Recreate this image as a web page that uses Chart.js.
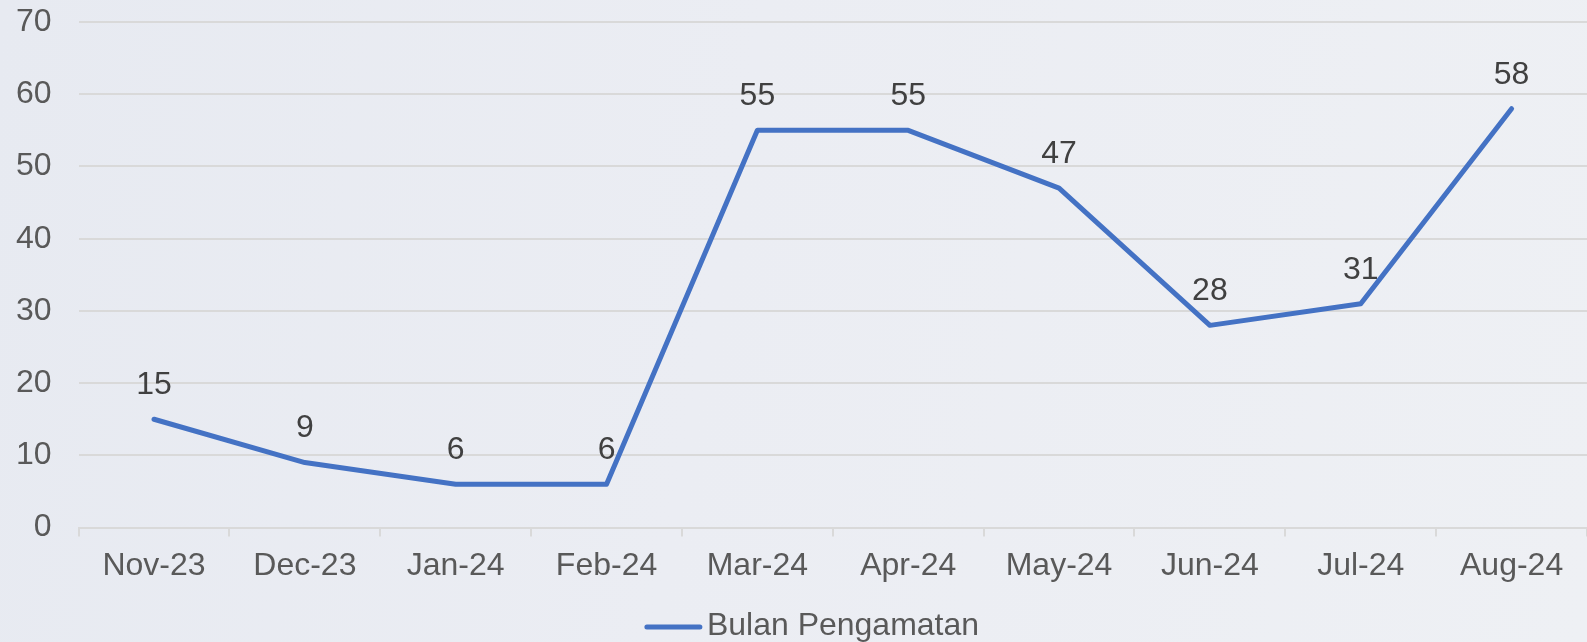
<!DOCTYPE html>
<html>
<head>
<meta charset="utf-8">
<script src="https://cdn.jsdelivr.net/npm/chart.js@4/dist/chart.umd.min.js"></script>
<style>
  html, body { margin: 0; padding: 0; }
  body {
    width: 1587px; height: 642px; overflow: hidden;
    background: linear-gradient(100deg, #e7eaf1 0%, #ebedf3 45%, #eef0f4 100%);
  }
  canvas { display: block; }
</style>
</head>
<body>
<canvas id="chart" width="1587" height="642"></canvas>
<script>
// data
const months = ['Nov-23', 'Dec-23', 'Jan-24', 'Feb-24', 'Mar-24', 'Apr-24', 'May-24', 'Jun-24', 'Jul-24', 'Aug-24'];
const counts = [15, 9, 6, 6, 55, 55, 47, 28, 31, 58];
const seriesName = 'Bulan Pengamatan';

const FONT = '"Liberation Sans", Arial, sans-serif';
const BLUE = '#4472C4';
const GRID = '#d9d9d9';

// value labels above each point
const valueLabels = {
  id: 'valueLabels',
  afterDatasetsDraw(chart) {
    const ctx = chart.ctx;
    const meta = chart.getDatasetMeta(0);
    ctx.save();
    ctx.font = '32px ' + FONT;
    ctx.fillStyle = '#404040';
    ctx.textAlign = 'center';
    ctx.textBaseline = 'middle';
    meta.data.forEach((pt, i) => {
      ctx.fillText(String(counts[i]), pt.x, pt.y - 34);
    });
    ctx.restore();
  }
};

// legend like the office one: short line + name, close together
const lineLegend = {
  id: 'lineLegend',
  afterDraw(chart) {
    const ctx = chart.ctx;
    ctx.save();
    ctx.font = '32px ' + FONT;
    const tw = ctx.measureText(seriesName).width;
    const total = 56 + 5 + tw;
    const x0 = (chart.width - total) / 2 + 18;
    const y = chart.height - 16;
    ctx.strokeStyle = BLUE;
    ctx.lineWidth = 5;
    ctx.lineCap = 'round';
    ctx.beginPath();
    ctx.moveTo(x0 + 2, y + 1);
    ctx.lineTo(x0 + 55, y + 1);
    ctx.stroke();
    ctx.fillStyle = '#595959';
    ctx.textBaseline = 'middle';
    ctx.fillText(seriesName, x0 + 62, y);
    ctx.restore();
  }
};

const ctx = document.getElementById('chart').getContext('2d');
const chart = new Chart(ctx, {
  type: 'line',
  data: {
    labels: months,
    datasets: [{
      label: seriesName,
      data: counts,
      borderColor: BLUE,
      backgroundColor: BLUE,
      borderWidth: 5,
      borderCapStyle: 'round',
      borderJoinStyle: 'round',
      pointRadius: 0,
      tension: 0,
    }],
  },
  options: {
    responsive: false,
    animation: false,
    devicePixelRatio: 1,
    layout: { padding: { top: 0, left: -11, right: 0, bottom: 36 } },
    plugins: {
      legend: { display: false },
      tooltip: { enabled: false },
    },
    scales: {
      x: {
        offset: true,
        afterFit(s) { s.height += 11; },
        grid: { offset: true, drawOnChartArea: false, drawTicks: true, tickLength: 9, color: GRID, lineWidth: 2 },
        border: { display: true, color: GRID, width: 2 },
        ticks: { font: { family: FONT, size: 32 }, color: '#595959', padding: 10, maxRotation: 0, autoSkip: false },
      },
      y: {
        min: 0,
        max: 70,
        afterFit(s) { s.paddingTop = 22; },
        ticks: { stepSize: 10, font: { family: FONT, size: 32 }, color: '#595959', padding: 27 },
        grid: { color: GRID, lineWidth: 2, drawTicks: false },
        border: { display: false },
      },
    },
  },
  plugins: [valueLabels, lineLegend],
});
</script>
</body>
</html>
